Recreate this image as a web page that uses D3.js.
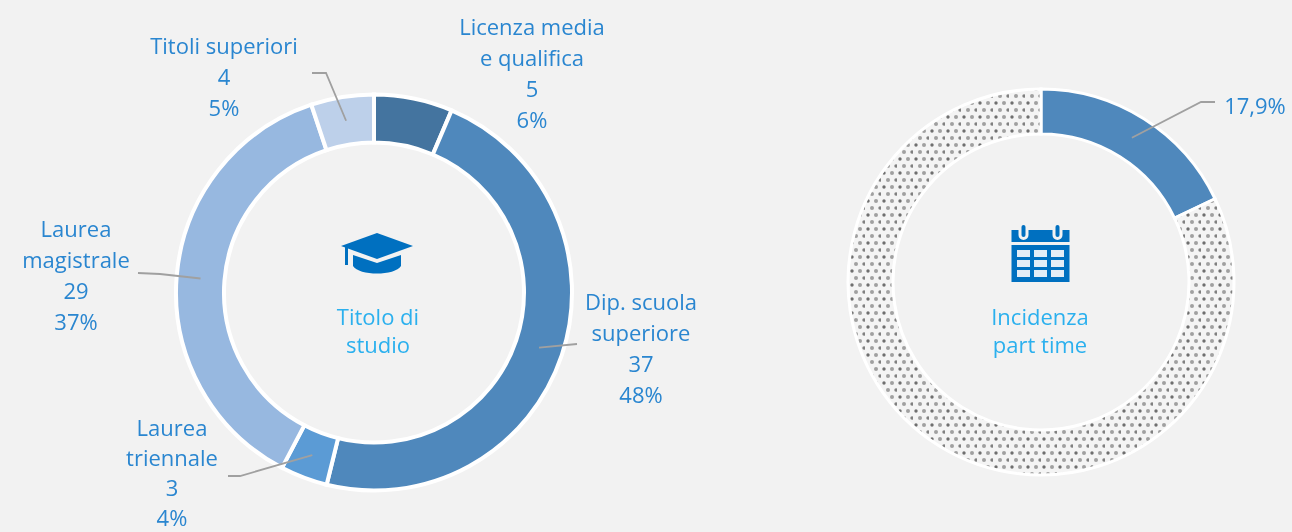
<!DOCTYPE html>
<html>
<head>
<meta charset="utf-8">
<script src="https://cdn.jsdelivr.net/npm/d3@7"></script>
<style>
  html, body { margin: 0; padding: 0; background: #f2f2f2; overflow: hidden; }
  text { font-family: "Open Sans", sans-serif; }
  svg { filter: blur(0.5px); }
</style>
</head>
<body>
<div id="chart"></div>
<script>
const width = 1292, height = 532;

// titolo di studio
const categories = ["Licenza media e qualifica", "Dip. scuola superiore", "Laurea triennale", "Laurea magistrale", "Titoli superiori"];
const values = [5, 37, 3, 29, 4];
const percents = ["6%", "48%", "4%", "37%", "5%"];
const colors = ["#44749f", "#4f88bc", "#5b9bd5", "#97b8e0", "#bdd0ea"];

// incidenza part time
const partTimeNames = ["Part time", "Altro"];
const partTimeValues = [17.9, 82.1];
const partTimeLabel = "17,9%";

// righe delle etichette e gomito del filo
const labelLines = [
  ["Licenza media", "e qualifica", "5", "6%"],
  ["Dip. scuola", "superiore", "37", "48%"],
  ["Laurea", "triennale", "3", "4%"],
  ["Laurea", "magistrale", "29", "37%"],
  ["Titoli superiori", "4", "5%"]
];
const labelPos = [[532, 35], [641, 310], [172, 435.5], [76, 237], [224, 54]];
const labelStep = [31, 31, 30, 31, 31];
const leaders = [null, [[577, 344], [577, 344]], [[240, 476], [228, 476]], [[160, 274], [138, 273]], [[326, 73], [312, 73]]];

const svg = d3.select("#chart").append("svg")
  .attr("width", width)
  .attr("height", height)
  .style("display", "block");

// retino puntinato
const defs = svg.append("defs");
const dots = defs.append("pattern")
  .attr("id", "dots")
  .attr("patternUnits", "userSpaceOnUse")
  .attr("width", 16)
  .attr("height", 14);
dots.append("rect").attr("width", 16).attr("height", 14).attr("fill", "#f4f4f4");
dots.append("circle").attr("cx", 3).attr("cy", 3).attr("r", 1.7).attr("fill", "#6f6f6f");
dots.append("circle").attr("cx", 11).attr("cy", 3).attr("r", 2).attr("fill", "#a0a0a0");
dots.append("circle").attr("cx", 7).attr("cy", 10).attr("r", 2).attr("fill", "#a0a0a0");
dots.append("circle").attr("cx", 15).attr("cy", 10).attr("r", 1.7).attr("fill", "#808080");

const pie = d3.pie().sort(null);

// donut di sinistra
const left = svg.append("g").attr("transform", "translate(374,292.5)");
const arcLeft = d3.arc().innerRadius(150).outerRadius(198);
const arcsLeft = pie(values);

left.selectAll("path")
  .data(arcsLeft)
  .join("path")
  .attr("d", arcLeft)
  .attr("fill", (d, i) => colors[i])
  .attr("stroke", "#fff")
  .attr("stroke-width", 4);

const line = d3.line();

arcsLeft.forEach((d, i) => {
  if (!leaders[i]) return;
  const c = arcLeft.centroid(d);
  const pts = [[c[0] + 374, c[1] + 292.5]].concat(leaders[i]);
  svg.append("path")
    .attr("d", line(pts))
    .attr("fill", "none")
    .attr("stroke", "#a0a0a0")
    .attr("stroke-width", 1.8);
});

labelLines.forEach((rows, i) => {
  const t = svg.append("text")
    .attr("text-anchor", "middle")
    .attr("font-size", 22)
    .attr("fill", "#2a86d0");
  rows.forEach((r, j) => {
    t.append("tspan")
      .attr("x", labelPos[i][0])
      .attr("y", labelPos[i][1] + j * labelStep[i])
      .text(r);
  });
});

// donut di destra
const right = svg.append("g").attr("transform", "translate(1041,282)");
const arcRight = d3.arc().innerRadius(148).outerRadius(193);
const arcsRight = pie(partTimeValues);

right.selectAll("path")
  .data(arcsRight)
  .join("path")
  .attr("d", arcRight)
  .attr("fill", (d, i) => i === 0 ? "#4f88bc" : "url(#dots)")
  .attr("stroke", "#fff")
  .attr("stroke-width", 3);

const cr = arcRight.centroid(arcsRight[0]);
svg.append("path")
  .attr("d", line([[cr[0] + 1041, cr[1] + 282], [1201, 102], [1215, 102]]))
  .attr("fill", "none")
  .attr("stroke", "#a0a0a0")
  .attr("stroke-width", 1.8);

svg.append("text")
  .attr("x", 1255)
  .attr("y", 114)
  .attr("text-anchor", "middle")
  .attr("font-size", 22)
  .attr("fill", "#2a86d0")
  .text(partTimeLabel);

// testi al centro
function centre(x, rows) {
  const t = svg.append("text")
    .attr("text-anchor", "middle")
    .attr("font-size", 22)
    .attr("fill", "#2bb0ee");
  rows.forEach((r, j) => {
    t.append("tspan").attr("x", x).attr("y", 325 + j * 28).text(r);
  });
}
centre(378, ["Titolo di", "studio"]);
centre(1040, ["Incidenza", "part time"]);

// icona tocco
const blue = "#0070c0";
const hat = svg.append("g").attr("transform", "translate(377,253)").attr("fill", blue);
hat.append("path").attr("d", "M0,-20 L36,-7 L0,6 L-36,-7 Z");
hat.append("path").attr("d", "M-24,2 L0,10 L24,2 L24,13 C18,23 -18,23 -24,13 Z");
hat.append("rect").attr("x", -32).attr("y", -7).attr("width", 3).attr("height", 19);

// icona calendario
const cal = svg.append("g").attr("transform", "translate(1040.5,254)");
cal.append("path").attr("fill", blue)
  .attr("d", "M-29,-24 H-22 V-19 A5,5 0 0 0 -12,-19 V-24 H12 V-19 A5,5 0 0 0 22,-19 V-24 H29 V-12 H-29 Z");
[-17, 17].forEach(x => {
  cal.append("rect").attr("x", x - 2).attr("y", -29).attr("width", 4).attr("height", 12).attr("rx", 2).attr("fill", blue);
});
cal.append("rect").attr("x", -29).attr("y", -9).attr("width", 58).attr("height", 37).attr("fill", blue);
d3.range(3).forEach(r => d3.range(3).forEach(c => {
  cal.append("rect")
    .attr("x", -23.5 + c * 17)
    .attr("y", -4 + r * 10)
    .attr("width", 13)
    .attr("height", 7)
    .attr("fill", "#e4edf6");
}));
</script>
</body>
</html>
